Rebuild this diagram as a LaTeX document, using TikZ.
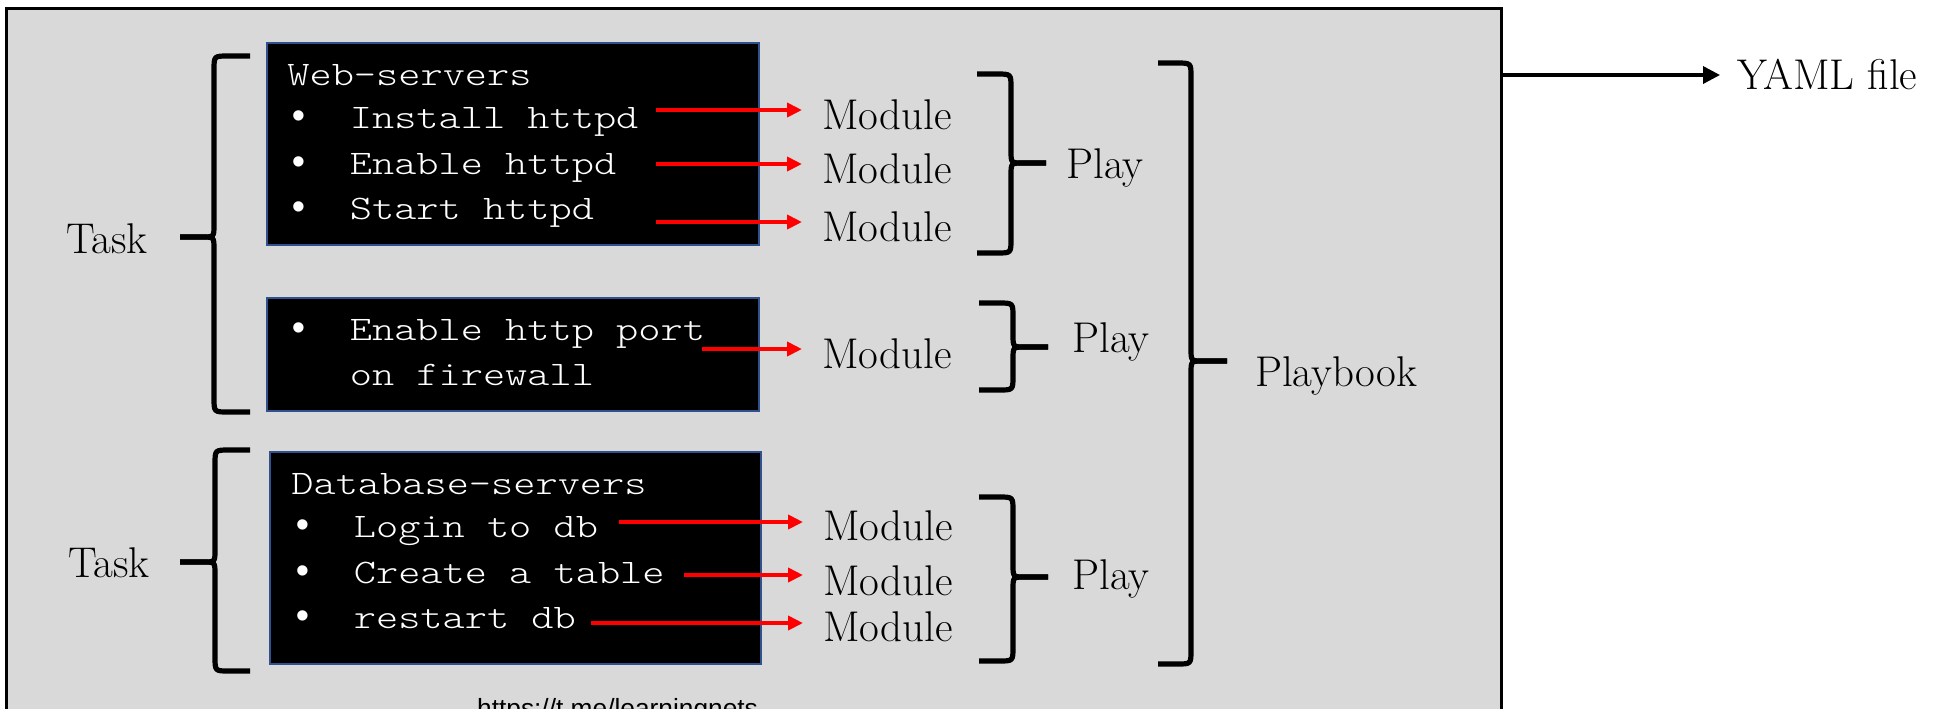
\documentclass[tikz,border=0pt]{standalone}
\usepackage{fontspec}
\newfontfamily\codefont{lmmonolt10-regular.otf}[FakeStretch=1.229]
\newfontfamily\bulfont{Liberation Mono}
\newfontfamily\urlfont{Liberation Sans}
\usetikzlibrary{arrows.meta}
\definecolor{bggray}{HTML}{D9D9D9}
\definecolor{boxblue}{HTML}{2F528F}
\newcommand\bul{\makebox[31.25pt][l]{\bulfont\fontsize{19pt}{22pt}\selectfont •}}
% left-opening brace: ends x, line x, tip x, top y, bottom y, tip y
\newcommand\bracel[6]{%
  \draw[bracestyle] (#1,#4) -- ({#2+14},#4) .. controls (#2,#4) .. (#2,{#4+14}) -- (#2,{#6-12}) .. controls (#2,#6) .. ({#2-12},#6) -- (#3,#6);
  \draw[bracestyle] (#3,#6) -- ({#2-12},#6) .. controls (#2,#6) .. (#2,{#6+12}) -- (#2,{#5-14}) .. controls (#2,#5) .. ({#2+14},#5) -- (#1,#5);}
% right-opening brace
\newcommand\bracer[6]{%
  \draw[bracestyle] (#1,#4) -- ({#2-14},#4) .. controls (#2,#4) .. (#2,{#4+14}) -- (#2,{#6-12}) .. controls (#2,#6) .. ({#2+12},#6) -- (#3,#6);
  \draw[bracestyle] (#3,#6) -- ({#2+12},#6) .. controls (#2,#6) .. (#2,{#6+12}) -- (#2,{#5-14}) .. controls (#2,#5) .. ({#2-14},#5) -- (#1,#5);}
\tikzset{
  mono/.style={font=\codefont\fontsize{17.2pt}{20pt}\selectfont, text=white, inner sep=0pt, anchor=base west},
  serif/.style={font=\fontsize{21.5pt}{26pt}\selectfont, inner sep=0pt, anchor=base},
  modnode/.style={serif, anchor=base west, outer xsep=10pt},
  codebox/.style={draw=boxblue, fill=black, line width=1pt, anchor=north west, inner sep=0pt},
  redarr/.style={draw=red, line width=2pt, -{Triangle[length=7.5pt,width=7pt]}},
  blkarr/.style={draw=black, line width=1.75pt, -{Triangle[length=8.5pt,width=8.5pt]}},
  bracestyle/.style={line width=2.6pt, line cap=butt, line join=round},
}
\begin{document}
\begin{tikzpicture}[x=0.5pt,y=-0.5pt]
\useasboundingbox (0,0) rectangle (1941,708);
\clip (0,0) rectangle (1941,708);
\fill[white] (0,0) rectangle (1941,708);
\draw[fill=bggray, line width=1.5pt] (6,8) rectangle (1501,730);

% code boxes
\node[codebox, minimum width=246pt, minimum height=101pt] (b1) at (266,42) {};
\node[codebox, minimum width=246pt, minimum height=56.5pt] (b2) at (266,297) {};
\node[codebox, minimum width=245.5pt, minimum height=106pt] (b3) at (269,451) {};

% code lines
\node[mono] (l0) at (287,85) {Web-servers};
\node[mono] (l1) at (287,128) {\bul Install httpd};
\node[mono] (l2) at (287,174) {\bul Enable httpd};
\node[mono] (l3) at (287,219) {\bul Start httpd};
\node[mono] (l4) at (287,340) {\bul Enable http port};
\node[mono] (l5) at (287,385) {\makebox[31.25pt][l]{}on firewall};
\node[mono] (l6) at (291,494) {Database-servers};
\node[mono] (l7) at (291,537) {\bul Login to db};
\node[mono] (l8) at (291,583) {\bul Create a table};
\node[mono] (l9) at (291,628) {\bul restart db};

% modules
\node[modnode] (m1) at (802,129) {Module};
\node[modnode] (m2) at (802,183) {Module};
\node[modnode] (m3) at (802,241) {Module};
\node[modnode] (m4) at (802,368) {Module};
\node[modnode] (m5) at (803,540) {Module};
\node[modnode] (m6) at (803,595) {Module};
\node[modnode] (m7) at (803,641) {Module};

% arrow starts
\coordinate (s1) at (656,110);
\coordinate (s2) at (656,164);
\coordinate (s3) at (656,222);
\coordinate (s4) at (702,349);
\coordinate (s5) at (619,522);
\coordinate (s6) at (684,575);
\coordinate (s7) at (591,623);
\draw[redarr] (s1) -- (s1 -| m1.west);
\draw[redarr] (s2) -- (s2 -| m2.west);
\draw[redarr] (s3) -- (s3 -| m3.west);
\draw[redarr] (s4) -- (s4 -| m4.west);
\draw[redarr] (s5) -- (s5 -| m5.west);
\draw[redarr] (s6) -- (s6 -| m6.west);
\draw[redarr] (s7) -- (s7 -| m7.west);

% braces
\bracel{250}{214}{180}{56}{412}{237}
\bracel{250}{215}{180}{450}{671}{562}
\bracer{977}{1011}{1046}{74}{253}{163}
\bracer{979}{1013}{1048}{303}{390}{347}
\bracer{979}{1013}{1048}{497}{661}{577}
\bracer{1158}{1191}{1227}{63}{664}{361}

% labels
\node[serif] (t1) at (107,253) {Task};
\node[serif] (t2) at (109,577) {Task};
\node[serif] (p1) at (1105,178) {Play};
\node[serif] (p2) at (1111,352) {Play};
\node[serif] (p3) at (1111,589) {Play};
\node[serif] (pb) at (1336,386) {Playbook};

% YAML
\node[serif, anchor=base west, outer xsep=8.5pt] (yaml) at (1720,89) {YAML file};
\coordinate (ys) at (1501,75);
\draw[blkarr] (ys) -- (ys -| yaml.west);

% url
\node[font=\urlfont\fontsize{13.15pt}{16pt}\selectfont, anchor=base, inner sep=0pt] (url) at (617.5,717) {https://t.me/learningnets};
\end{tikzpicture}
\end{document}
